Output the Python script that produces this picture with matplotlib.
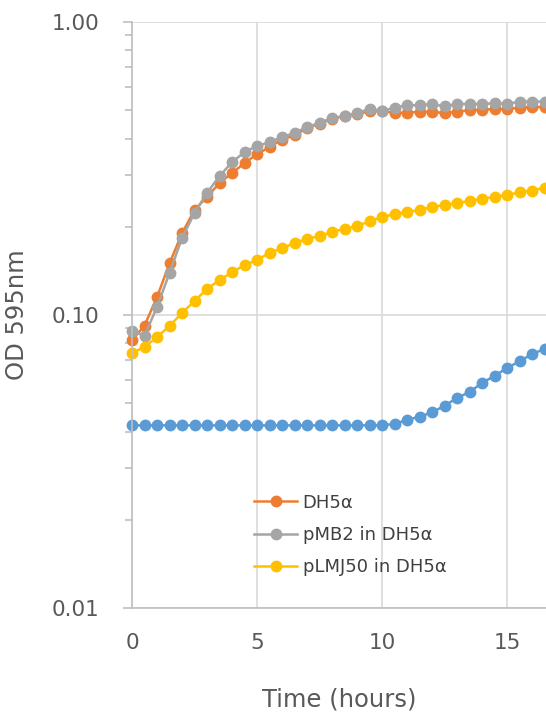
import numpy as np
import matplotlib
matplotlib.use('Agg')
from matplotlib import pyplot as plt
from matplotlib.ticker import LogLocator, FixedLocator, NullFormatter

plt.rcParams['font.family'] = ['DejaVu Sans']

hours = np.arange(0, 17, 0.5)

dh5a = [0.082, 0.092, 0.115, 0.150, 0.190, 0.228, 0.253, 0.282, 0.305, 0.330,
        0.354, 0.374, 0.397, 0.410, 0.435, 0.450, 0.468, 0.477, 0.486, 0.495,
        0.497, 0.489, 0.490, 0.494, 0.494, 0.489, 0.494, 0.500, 0.502, 0.505,
        0.505, 0.510, 0.513, 0.513]
pmb2 = [0.088, 0.085, 0.1065, 0.139, 0.183, 0.223, 0.261, 0.298, 0.332, 0.360,
        0.377, 0.389, 0.405, 0.418, 0.438, 0.452, 0.470, 0.477, 0.489, 0.505,
        0.497, 0.510, 0.520, 0.520, 0.525, 0.515, 0.525, 0.525, 0.525, 0.528,
        0.525, 0.535, 0.535, 0.535]
plmj50 = [0.0742, 0.0778, 0.0841, 0.0917, 0.1016, 0.1116, 0.1227, 0.1316, 0.140, 0.148,
          0.154, 0.163, 0.169, 0.176, 0.182, 0.186, 0.192, 0.197, 0.201, 0.209,
          0.216, 0.221, 0.225, 0.228, 0.234, 0.237, 0.241, 0.245, 0.249, 0.253,
          0.257, 0.262, 0.266, 0.272]
blue = [0.042] * 20 + [0.0420, 0.0425, 0.0438, 0.0450, 0.0465, 0.049, 0.0521,
                       0.0546, 0.0586, 0.062, 0.0659, 0.0695, 0.0735, 0.0766]

labels = ['DH5α', 'pMB2 in DH5α', 'pLMJ50 in DH5α']

fig = plt.figure(figsize=(5.46, 7.17), dpi=100)
ax = fig.add_axes([132 / 546, 1 - 608 / 717, 1 - 132 / 546, (608 - 22) / 717])

kw = dict(marker='o', markersize=7.5, linewidth=1.8, clip_on=False)
ax.plot(hours, blue, color='#5B9BD5', **kw)
l1, = ax.plot(hours, dh5a, color='#ED7D31', **kw)
l2, = ax.plot(hours, pmb2, color='#A5A5A5', **kw)
l3, = ax.plot(hours, plmj50, color='#FFC000', **kw)

ax.set_yscale('log')
ax.set_ylim(0.01, 1.0)
ax.set_xlim(0, (546 - 132) / 25)

ax.yaxis.set_major_locator(FixedLocator([0.01, 0.1, 1.0]))
ax.set_yticklabels(['0.01', '0.10', '1.00'])
ax.yaxis.set_minor_locator(LogLocator(base=10, subs=np.arange(2, 10)))
ax.yaxis.set_minor_formatter(NullFormatter())
ax.set_xticks([0, 5, 10, 15])

ax.grid(True, which='major', color='#D9D9D9', linewidth=1.2)
ax.set_axisbelow(True)
for s in ['top', 'right']:
    ax.spines[s].set_visible(False)
for s in ['left', 'bottom']:
    ax.spines[s].set_color('#BFBFBF')
    ax.spines[s].set_linewidth(1.2)

ax.tick_params(axis='y', which='major', length=6.5, color='#BFBFBF', width=1.2,
               labelsize=15.5, labelcolor='#595959', pad=17)
ax.tick_params(axis='y', which='minor', length=5, color='#BFBFBF', width=1.2)
ax.tick_params(axis='x', length=0, labelsize=15.5, labelcolor='#595959', pad=18)

ax.set_xlabel('Time (hours)', fontsize=17.5, color='#595959', labelpad=25)
ax.set_ylabel('OD 595nm', fontsize=17.5, color='#595959', labelpad=16)

ax.legend([l1, l2, l3], labels, loc='center', bbox_to_anchor=(0.527, 0.1246),
          frameon=False, fontsize=13, handlelength=2.4, labelspacing=0.8,
          handletextpad=0.3, labelcolor='#404040')

fig.savefig('out.png', dpi=100)
